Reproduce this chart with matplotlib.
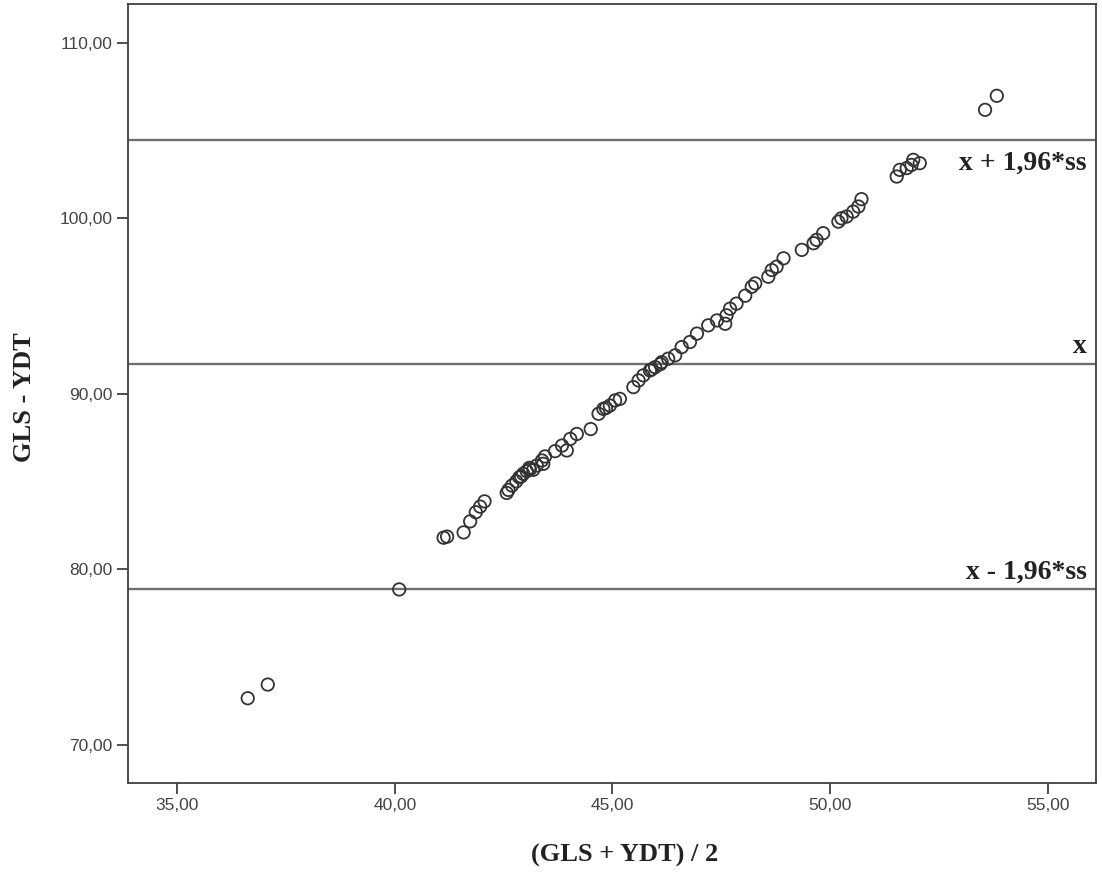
import matplotlib.pyplot as plt
from matplotlib.ticker import FuncFormatter

# (GLS + YDT) / 2
mean_vals = [36.62, 37.08, 40.10, 41.12, 41.20, 41.58, 41.73, 41.86, 41.96, 42.06,
             42.57, 42.61, 42.69, 42.79, 42.86, 42.90, 42.95, 43.03, 43.09, 43.10,
             43.18, 43.26, 43.38, 43.41, 43.45, 43.68, 43.84, 43.95, 44.03, 44.18,
             44.50, 44.68, 44.79, 44.85, 44.94, 45.06, 45.17, 45.48, 45.60, 45.71,
             45.86, 45.90, 45.98, 46.10, 46.13, 46.28, 46.44, 46.59, 46.78, 46.94,
             47.20, 47.40, 47.59, 47.62, 47.70, 47.85, 48.05, 48.20, 48.28, 48.58,
             48.66, 48.77, 48.93, 49.35, 49.62, 49.69, 49.84, 50.19, 50.26, 50.38,
             50.53, 50.65, 50.72, 51.53, 51.60, 51.76, 51.87, 51.91, 52.06, 53.56,
             53.83]
# GLS - YDT
diff_vals = [72.66, 73.44, 78.86, 81.81, 81.87, 82.11, 82.74, 83.26, 83.58, 83.88,
             84.36, 84.53, 84.78, 85.02, 85.25, 85.30, 85.45, 85.60, 85.79, 85.70,
             85.68, 85.92, 86.21, 86.02, 86.44, 86.74, 87.06, 86.78, 87.44, 87.72,
             88.00, 88.87, 89.15, 89.20, 89.34, 89.63, 89.72, 90.39, 90.77, 91.06,
             91.34, 91.40, 91.53, 91.70, 91.81, 92.01, 92.20, 92.67, 92.96, 93.44,
             93.91, 94.19, 94.00, 94.48, 94.86, 95.15, 95.60, 96.11, 96.30, 96.68,
             97.06, 97.25, 97.73, 98.21, 98.59, 98.78, 99.16, 99.82, 100.01, 100.11,
             100.39, 100.68, 101.10, 102.39, 102.77, 102.87, 103.05, 103.34, 103.15, 106.19,
             106.99]

mean_diff = 91.70
upper_loa = 104.48
lower_loa = 78.86

x_ticks = [35, 40, 45, 50, 55]
y_ticks = [70, 80, 90, 100, 110]

fig = plt.figure(figsize=(11.02, 8.74), dpi=100)
ax = fig.add_axes([0.1162, 0.1041, 0.8784, 0.8913])

ax.scatter(mean_vals, diff_vals, s=80, facecolors='none', edgecolors='#333333',
           linewidths=1.3, zorder=3)

for yv in [upper_loa, mean_diff, lower_loa]:
    ax.axhline(yv, color='#707070', lw=1.7, zorder=2)

ax.set_xlim(33.87, 56.11)
ax.set_ylim(67.83, 112.22)
ax.set_xticks(x_ticks)
ax.set_yticks(y_ticks)
fmt = FuncFormatter(lambda v, p: f'{v:.2f}'.replace('.', ','))
ax.xaxis.set_major_formatter(fmt)
ax.yaxis.set_major_formatter(fmt)
ax.tick_params(direction='out', length=8, width=1.3, color='#404040',
               labelsize=12.5, labelcolor='#444444', pad=3)
for lbl in ax.get_xticklabels() + ax.get_yticklabels():
    lbl.set_family('Liberation Sans')

for sp in ax.spines.values():
    sp.set_color('#404040')
    sp.set_linewidth(1.3)

serif = {'family': 'Liberation Serif', 'weight': 'bold', 'size': 19, 'color': '#222222'}
ax.set_xlabel('(GLS + YDT) / 2', fontdict=serif)
ax.xaxis.set_label_coords(0.513, -0.078)
ax.set_ylabel('GLS - YDT', fontdict=serif)
ax.yaxis.set_label_coords(-0.095, 0.495)

note = dict(serif, size=20)
ax.text(55.9, upper_loa - 0.6, 'x + 1,96*ss', ha='right', va='top', fontdict=note)
ax.text(55.9, mean_diff + 0.3, 'x', ha='right', va='bottom', fontdict=note)
ax.text(55.9, lower_loa + 0.3, 'x - 1,96*ss', ha='right', va='bottom', fontdict=note)

fig.savefig('out.png', dpi=100)
